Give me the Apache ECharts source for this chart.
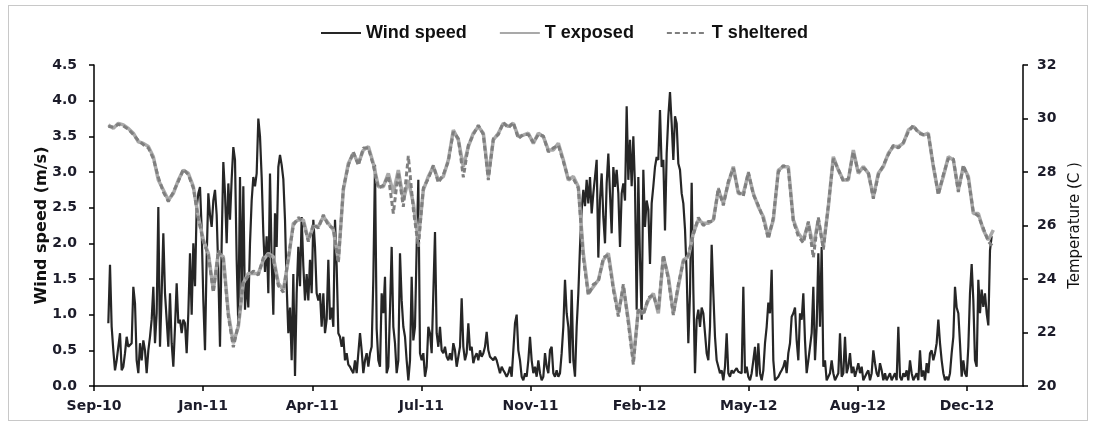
<!DOCTYPE html>
<html><head><meta charset="utf-8">
<script src="https://cdn.jsdelivr.net/npm/echarts@6/dist/echarts.min.js"></script>
<style>
html,body{margin:0;padding:0;background:#fff;}
#frame{position:absolute;left:8px;top:5px;width:1080px;height:416px;border:1px solid #c8c8c8;box-sizing:border-box;}
#chart{position:absolute;left:0;top:0;width:1094px;height:426px;}
</style></head><body>
<div id="frame"></div>
<div id="chart"></div>
<script>
const X_TICK_LABELS = ['Sep-10','Jan-11','Apr-11','Jul-11','Nov-11','Feb-12','May-12','Aug-12','Dec-12'];

const WIND = [
0.88,1.70,0.83,0.50,0.22,0.36,0.36,0.74,0.22,0.27,
0.46,0.69,0.55,0.55,0.60,1.39,1.16,0.36,0.18,0.60,
0.36,0.64,0.50,0.18,0.50,0.69,0.93,1.39,0.60,1.02,
2.51,0.55,1.30,2.14,1.30,0.93,0.55,1.30,0.60,0.27,
0.83,1.44,0.88,0.93,0.74,0.93,0.88,0.46,1.02,1.86,
1.00,2.00,1.40,2.50,2.70,2.79,2.20,1.20,0.50,1.80,
2.70,2.40,2.23,2.60,2.75,2.40,1.60,0.55,2.00,3.14,
2.70,2.00,2.84,2.33,2.90,3.35,3.17,1.77,0.83,2.93,
1.20,2.80,1.07,1.50,1.10,2.00,2.60,2.93,2.80,2.98,
3.75,3.50,2.93,2.14,1.60,2.10,1.30,2.98,1.77,1.00,
2.42,1.95,3.07,3.24,3.10,2.90,2.33,1.40,0.74,1.10,
0.36,1.57,0.14,1.30,1.95,1.40,2.37,1.68,1.20,1.57,
1.20,1.77,1.30,2.33,1.95,1.30,1.20,1.30,0.83,1.30,
0.74,0.93,1.77,0.93,1.10,0.83,2.33,1.68,0.74,0.69,
0.55,0.69,0.36,0.46,0.30,0.27,0.22,0.18,0.36,0.18,
0.46,0.74,0.50,0.18,0.36,0.46,0.27,0.46,0.55,1.50,
3.10,0.80,0.36,0.27,1.30,1.02,1.53,0.18,0.27,1.07,
1.95,0.83,0.60,0.18,0.36,
1.86,1.20,0.83,0.69,0.36,0.08,0.36,1.53,0.64,0.83,
1.95,2.89,0.46,0.36,0.46,0.13,0.27,0.83,0.74,0.46,
1.30,2.16,0.74,0.55,0.83,0.50,0.46,0.55,0.41,0.36,
0.46,0.36,0.60,0.50,0.27,0.41,0.55,1.23,0.55,0.36,
0.46,0.88,0.50,0.55,0.32,0.41,0.46,0.36,0.50,0.41,
0.46,0.55,0.76,0.50,0.41,0.41,0.36,0.41,0.36,0.27,
0.18,0.27,0.22,0.18,0.13,0.18,0.27,0.13,0.50,0.88,
1.00,0.50,0.36,0.13,0.08,0.18,0.13,0.36,0.69,0.36,
0.18,0.27,0.13,0.36,0.18,0.08,0.13,0.46,0.27,0.18,
0.50,0.55,0.18,0.13,0.22,0.13,0.18,0.46,0.83,1.49,
1.02,0.83,0.32,1.35,0.36,0.13,0.83,1.30,1.95,2.47,
2.75,2.52,2.89,2.56,2.93,2.42,2.70,2.93,3.17,1.80,
2.61,2.98,2.37,2.00,2.84,3.26,2.70,2.14,3.07,2.79,
3.03,2.70,1.95,2.70,2.84,2.60,3.92,2.89,3.45,2.80,
3.50,2.80,1.07,2.93,1.77,0.93,3.03,2.23,2.60,2.47,
1.71,2.56,2.80,3.07,3.21,3.17,3.87,3.07,3.17,2.18,
3.26,3.78,4.12,3.68,3.17,3.78,3.68,3.12,3.03,2.70,
2.56,2.20,1.58,0.60,1.30,2.85,1.35,0.18,0.93,1.07,
0.83,1.10,1.02,0.74,0.46,0.36,0.83,1.98,1.30,0.69,
0.36,0.27,0.18,0.22,0.08,0.27,0.74,0.18,0.13,0.22,
0.18,0.22,0.25,0.20,0.22,0.18,1.39,0.18,0.27,0.13,
0.08,0.18,0.36,0.55,0.13,0.60,0.18,0.08,0.22,0.60,
0.83,1.17,1.02,1.63,0.36,0.08,0.08,0.13,0.18,0.22,
0.27,0.36,0.18,0.46,0.60,0.97,1.02,1.10,0.64,0.36,
1.02,0.93,1.30,0.64,0.18,0.36,0.55,0.74,1.39,0.36,
0.83,1.86,0.83,1.95,0.27,0.36,0.08,0.13,0.18,0.36,
0.18,0.08,0.13,0.18,0.74,0.13,0.18,0.69,0.18,0.27,
0.46,0.18,0.27,0.13,0.22,0.32,0.18,0.27,0.08,0.13,
0.18,0.22,0.08,0.18,0.50,0.32,0.18,0.13,0.32,0.22,
0.08,0.18,0.08,0.13,0.18,0.08,0.13,0.18,0.08,0.83,
0.13,0.08,0.18,0.13,0.22,0.08,0.36,0.18,0.08,0.13,
0.18,0.08,0.50,0.13,0.22,0.08,0.32,0.18,0.46,0.50,
0.36,0.46,0.60,0.93,0.60,0.36,0.18,0.08,0.13,0.08,
0.18,0.46,0.69,1.39,1.10,1.02,0.60,0.13,0.36,0.18,
0.13,0.55,1.30,1.71,1.20,0.36,0.27,1.49,1.02,1.35,
1.11,1.30,1.02,0.85,1.90,2.10
];

const T_EXPOSED = [
29.76,29.63,29.82,29.76,29.63,29.45,29.13,29.07,28.95,28.57,
27.70,27.33,26.95,27.20,27.70,28.07,27.95,27.45,26.33,25.46,
24.96,23.59,24.96,24.83,22.72,21.60,22.22,23.84,24.21,24.21,
24.21,24.71,24.96,24.83,23.84,23.59,24.71,26.08,26.21,26.21,
25.46,25.96,25.96,26.33,26.08,25.83,24.71,27.33,28.32,28.70,
28.32,28.82,28.95,28.32,27.45,27.45,27.95,27.20,28.07,
26.95,27.70,26.83,25.46,27.33,27.83,28.20,27.70,27.83,28.45,
29.57,29.20,28.20,28.95,29.45,29.70,29.45,27.83,29.20,29.45,
29.82,29.70,29.82,29.32,29.38,29.45,29.07,29.45,29.32,28.82,
28.82,29.07,28.45,27.70,27.83,27.45,24.96,23.46,23.71,23.96,
24.71,24.96,23.71,22.72,23.71,22.47,20.97,22.84,22.72,23.21,
23.46,22.72,24.83,24.09,22.72,23.71,24.71,24.83,25.71,26.21,
26.08,26.08,26.21,27.33,26.83,27.58,28.20,27.20,27.20,27.95,
27.20,26.70,26.33,25.58,26.21,28.07,28.20,28.20,26.21,25.71,
25.46,26.08,25.21,26.21,25.21,26.70,28.57,28.07,27.70,27.70,
28.82,27.95,28.20,27.95,27.07,27.95,28.20,28.70,28.95,28.95,
29.07,29.57,29.70,29.51,29.38,29.45,28.20,27.20,27.83,28.57,
28.45,27.33,28.20,27.83,26.45,26.45,25.83,25.46,25.83
];

const T_SHELTERED = [
29.70,29.68,29.78,29.72,29.60,29.40,29.18,29.02,28.90,28.50,
27.80,27.25,26.90,27.25,27.65,28.10,27.90,27.40,26.25,25.40,
24.90,23.50,25.05,24.75,22.60,21.45,22.30,23.90,24.10,24.30,
24.15,24.80,24.90,24.75,23.75,23.50,24.80,26.00,26.30,26.15,
25.40,26.05,25.90,26.40,26.00,25.90,24.60,27.40,28.25,28.75,
28.25,28.90,28.90,28.25,27.40,27.50,27.85,26.45,28.00,
26.70,28.60,26.60,25.20,27.40,27.75,28.25,27.60,27.90,28.40,
29.50,29.25,27.80,29.00,29.40,29.75,29.40,27.70,29.25,29.40,
29.85,29.65,29.85,29.25,29.40,29.40,29.10,29.40,29.35,28.75,
28.90,29.00,28.40,27.75,27.75,27.40,24.80,23.40,23.80,23.90,
24.80,24.90,23.60,22.60,23.80,22.35,20.80,22.90,22.65,23.30,
23.40,22.80,24.90,24.00,22.65,23.80,24.65,24.90,25.65,26.30,
26.00,26.15,26.15,27.40,26.75,27.65,28.15,27.25,27.10,28.00,
27.15,26.75,26.25,25.50,26.30,28.00,28.25,28.10,26.15,25.60,
25.35,26.15,24.80,26.30,25.10,26.75,28.50,28.10,27.65,27.75,
28.75,28.00,28.15,28.00,27.00,27.90,28.25,28.65,29.00,28.90,
29.10,29.50,29.75,29.45,29.40,29.40,28.25,27.15,27.90,28.50,
28.50,27.25,28.25,27.75,26.50,26.35,25.90,25.40,25.20
];

// x axis: one unit = one wind sample; labelled ticks every TICK_STEP samples
const TICK_STEP = 65.475;
const X_MAX = 557.4;
const WIND_X0 = 8.6;   // first wind sample position on the x axis
const T_EVERY = 3;     // temperature sampled every 3 wind samples

const labelFont = {fontFamily:'DejaVu Sans', fontWeight:'bold', fontSize:14, color:'#1c1c2a'};

const chart = echarts.init(document.getElementById('chart'), null, {renderer:'canvas'});
chart.setOption({
  animation:false,
  legend:{
    top:19, left:315, itemWidth:40, itemHeight:12, itemGap:32,
    itemStyle:{opacity:0},
    textStyle:{fontFamily:'Liberation Sans', fontWeight:'bold', fontSize:18, color:'#111'},
    data:['Wind speed','T exposed','T sheltered']
  },
  grid:{left:94, right:71, top:65, bottom:40},
  xAxis:{
    type:'value', min:0, max:X_MAX, interval:TICK_STEP,
    axisLine:{lineStyle:{color:'#000', width:1.5}},
    axisTick:{show:true, length:5, lineStyle:{color:'#000', width:1.5}},
    splitLine:{show:false},
    axisLabel:Object.assign({margin:13, showMaxLabel:false,
      formatter:v => { const i = Math.round(v / TICK_STEP); return Math.abs(i*TICK_STEP - v) < 0.01 && X_TICK_LABELS[i] ? X_TICK_LABELS[i] : ''; }
    }, labelFont)
  },
  yAxis:[
    {type:'value', min:0, max:4.5, interval:0.5,
     name:'Wind speed (m/s)', nameLocation:'middle', nameGap:44, nameMoveOverlap:false,
     nameTextStyle:{fontFamily:'DejaVu Sans', fontWeight:'bold', fontSize:16, color:'#111'},
     axisLine:{show:true, lineStyle:{color:'#000', width:1.5}},
     axisTick:{show:true, length:5, lineStyle:{color:'#000', width:1.5}},
     splitLine:{show:false},
     axisLabel:Object.assign({margin:17, formatter:v => v.toFixed(1)}, labelFont)
    },
    {type:'value', min:20, max:32, interval:2, position:'right',
     name:'Temperature (C )', nameLocation:'middle', nameGap:45, nameMoveOverlap:false,
     nameTextStyle:{fontFamily:'DejaVu Sans', fontWeight:'normal', fontSize:15, color:'#111'},
     axisLine:{show:true, lineStyle:{color:'#000', width:1.5}},
     axisTick:{show:true, length:5, lineStyle:{color:'#000', width:1.5}},
     splitLine:{show:false},
     axisLabel:Object.assign({margin:14}, labelFont)
    }
  ],
  series:[
    {name:'Wind speed', type:'line', yAxisIndex:0, symbol:'none',
     data:WIND.map((v,k) => [WIND_X0 + k, v]),
     lineStyle:{color:'#262626', width:2.2}, itemStyle:{color:'#262626'}},
    {name:'T exposed', type:'line', yAxisIndex:1, symbol:'none',
     data:T_EXPOSED.map((v,j) => [WIND_X0 + T_EVERY*j, v]),
     lineStyle:{color:'#a9a9a9', width:3.5}, itemStyle:{color:'#a9a9a9'}},
    {name:'T sheltered', type:'line', yAxisIndex:1, symbol:'none',
     data:T_SHELTERED.map((v,j) => [WIND_X0 + T_EVERY*j, v]),
     lineStyle:{color:'#7f7f7f', width:3, type:[5,3]}, itemStyle:{color:'#7f7f7f'}}
  ]
});
</script>
</body></html>
